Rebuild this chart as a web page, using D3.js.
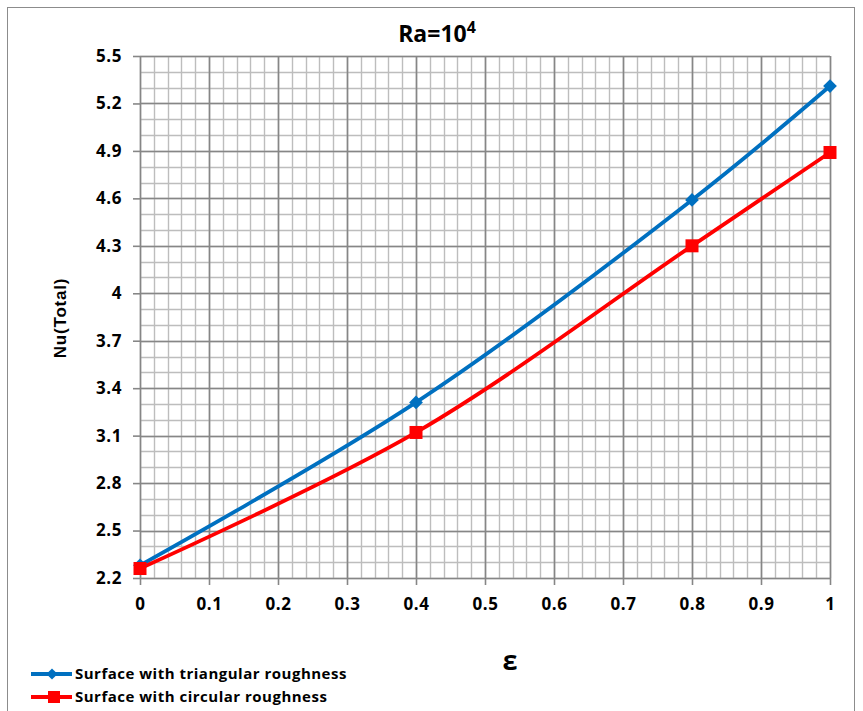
<!DOCTYPE html>
<html>
<head>
<meta charset="utf-8">
<script src="https://cdn.jsdelivr.net/npm/d3@7"></script>
<style>
  body { margin: 0; background: #fff; }
  text { font-family: "Open Sans", "Liberation Sans", sans-serif; font-weight: bold; fill: #000; }
</style>
</head>
<body>
<svg id="chart" width="863" height="711"></svg>
<script>
// values
const epsilon = [0, 0.4, 0.8, 1];
const triangular = [2.28, 3.31, 4.59, 5.31];
const circular = [2.26, 3.12, 4.30, 4.89];
const xTicks = [0, 0.1, 0.2, 0.3, 0.4, 0.5, 0.6, 0.7, 0.8, 0.9, 1];
const yTicks = [2.2, 2.5, 2.8, 3.1, 3.4, 3.7, 4, 4.3, 4.6, 4.9, 5.2, 5.5];
const seriesNames = ["Surface with triangular roughness", "Surface with circular roughness"];

const margin = {top: 56, right: 33, bottom: 133, left: 140};
const W = 863, H = 711;
const width = W - margin.left - margin.right;
const height = H - margin.top - margin.bottom;

const svg = d3.select("#chart");

// outer chart frame
svg.append("rect")
    .attr("x", 7.5).attr("y", 7.5)
    .attr("width", 847).attr("height", 720)
    .attr("fill", "none").attr("stroke", "#8c8c8c").attr("stroke-width", 1);

const g = svg.append("g").attr("transform", "translate(" + margin.left + "," + margin.top + ")");

const x = d3.scaleLinear().domain([0, 1]).range([0, width]);
const y = d3.scaleLinear().domain([2.2, 5.5]).range([height, 0]);

// minor grid
const minorX = d3.range(0, 51).map(i => i / 50);
const minorY = d3.range(0, 34).map(i => 2.2 + i * 0.1);
g.append("g").selectAll("line").data(minorX).enter().append("line")
    .attr("x1", d => Math.round(x(d)) + 0.5).attr("x2", d => Math.round(x(d)) + 0.5)
    .attr("y1", 0).attr("y2", height)
    .attr("stroke", "#bdbdbd").attr("stroke-width", 1.4);
g.append("g").selectAll("line").data(minorY).enter().append("line")
    .attr("y1", d => Math.round(y(d)) + 0.5).attr("y2", d => Math.round(y(d)) + 0.5)
    .attr("x1", 0).attr("x2", width)
    .attr("stroke", "#bdbdbd").attr("stroke-width", 1.4);

// major grid
g.append("g").selectAll("line").data(xTicks).enter().append("line")
    .attr("x1", d => Math.round(x(d)) + 0.5).attr("x2", d => Math.round(x(d)) + 0.5)
    .attr("y1", 0).attr("y2", height)
    .attr("stroke", "#868686").attr("stroke-width", 1.6);
g.append("g").selectAll("line").data(yTicks).enter().append("line")
    .attr("y1", d => Math.round(y(d)) + 0.5).attr("y2", d => Math.round(y(d)) + 0.5)
    .attr("x1", 0).attr("x2", width)
    .attr("stroke", "#868686").attr("stroke-width", 1.6);

// axes
const xAxis = d3.axisBottom(x).tickValues(xTicks).tickSize(7).tickPadding(13).tickFormat(d => d3.format("")(d));
const yAxis = d3.axisLeft(y).tickValues(yTicks).tickSize(7).tickPadding(11).tickFormat(d => d3.format("")(d));

const gx = g.append("g").attr("transform", "translate(0," + height + ")").call(xAxis);
const gy = g.append("g").call(yAxis);
[gx, gy].forEach(a => {
    a.select(".domain").remove();
    a.selectAll(".tick line").attr("stroke", "#868686").attr("stroke-width", 1.6);
    a.selectAll(".tick text")
        .style("font-size", "17px")
        .style("letter-spacing", "0.6px")
        .style("font-family", "\"Open Sans\", sans-serif")
        .style("font-weight", "bold");
});

// lines
const line = d3.line()
    .x(d => x(d[0]))
    .y(d => y(d[1]))
    .curve(d3.curveCatmullRom.alpha(0.5));

const triData = epsilon.map((e, i) => [e, triangular[i]]);
const cirData = epsilon.map((e, i) => [e, circular[i]]);

g.append("path").datum(triData).attr("d", line)
    .attr("fill", "none").attr("stroke", "#0070C0").attr("stroke-width", 3.8);
g.append("path").datum(cirData).attr("d", line)
    .attr("fill", "none").attr("stroke", "#FF0000").attr("stroke-width", 3.8);

// markers
g.append("g").selectAll("path").data(triData).enter().append("path")
    .attr("transform", d => "translate(" + x(d[0]) + "," + y(d[1]) + ")")
    .attr("d", d3.symbol().type(d3.symbolDiamond2).size(120))
    .attr("fill", "#0070C0");
g.append("g").selectAll("rect").data(cirData).enter().append("rect")
    .attr("x", d => x(d[0]) - 6.5).attr("y", d => y(d[1]) - 6.5)
    .attr("width", 13).attr("height", 13)
    .attr("fill", "#FF0000");

// title
const title = svg.append("text")
    .attr("x", 437).attr("y", 42)
    .attr("text-anchor", "middle")
    .style("font-size", "23px");
title.append("tspan").text("Ra=10");
title.append("tspan").attr("dy", -9).style("font-size", "16px").text("4");

// axis titles
svg.append("text")
    .attr("transform", "translate(66,318) rotate(-90)")
    .attr("text-anchor", "middle")
    .style("font-family", "\"Liberation Sans\", Arial, sans-serif")
    .style("font-size", "17px")
    .style("letter-spacing", "0.8px")
    .text("Nu(Total)");
svg.append("text")
    .attr("x", 510).attr("y", 670)
    .attr("text-anchor", "middle")
    .style("font-size", "27px")
    .text("ε");

// legend
const legend = svg.append("g");
const legendColors = ["#0070C0", "#FF0000"];
seriesNames.forEach((name, i) => {
    const ly = 674 + i * 23;
    legend.append("line")
        .attr("x1", 31).attr("x2", 72).attr("y1", ly).attr("y2", ly)
        .attr("stroke", legendColors[i]).attr("stroke-width", 3.8);
    if (i === 0) {
        legend.append("path")
            .attr("transform", "translate(52," + ly + ")")
            .attr("d", d3.symbol().type(d3.symbolDiamond2).size(80))
            .attr("fill", legendColors[i]);
    } else {
        legend.append("rect")
            .attr("x", 48).attr("y", ly - 6).attr("width", 12).attr("height", 12)
            .attr("fill", legendColors[i]);
    }
    legend.append("text")
        .attr("x", 75).attr("y", ly + 5)
        .style("font-size", "15px")
        .style("letter-spacing", "0.5px")
        .text(name);
});
</script>
</body>
</html>
